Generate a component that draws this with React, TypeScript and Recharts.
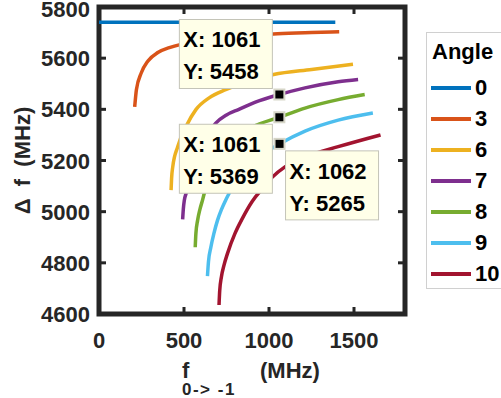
import React from "react";
import { LineChart, Line, XAxis, YAxis, ReferenceDot, ReferenceArea } from "recharts";

const xTicks = [0, 500, 1000, 1500];
const yTicks = [4600, 4800, 5000, 5200, 5400, 5600, 5800];
const xMax = 1800;
const yMin = 4600;
const yMax = 5800;

const angleNames = ["0", "3", "6", "7", "8", "9", "10"];
const angleColors = ["#0072BD", "#D95319", "#EDB120", "#7E2F8E", "#77AC30", "#4DBEEE", "#A2142F"];

const angle0 = [
  { f: 0, df: 5740 },
  { f: 1390, df: 5740 },
];
const angle3 = [
  { f: 210, df: 5410 }, { f: 220, df: 5477 }, { f: 249, df: 5543 }, { f: 288, df: 5589 },
  { f: 346, df: 5622 }, { f: 414, df: 5641 }, { f: 483, df: 5654 }, { f: 600, df: 5668 },
  { f: 750, df: 5680 }, { f: 900, df: 5688 }, { f: 1050, df: 5695 }, { f: 1250, df: 5700 },
  { f: 1413, df: 5703 },
];
const angle6 = [
  { f: 424, df: 5084 }, { f: 427, df: 5130 }, { f: 434, df: 5176 }, { f: 463, df: 5254 },
  { f: 512, df: 5333 }, { f: 570, df: 5399 }, { f: 648, df: 5445 }, { f: 745, df: 5477 },
  { f: 823, df: 5497 }, { f: 1027, df: 5536 }, { f: 1251, df: 5556 }, { f: 1494, df: 5576 },
];
const angle7 = [
  { f: 492, df: 4970 }, { f: 496, df: 5010 }, { f: 502, df: 5045 }, { f: 512, df: 5071 },
  { f: 540, df: 5150 }, { f: 580, df: 5222 }, { f: 630, df: 5290 }, { f: 687, df: 5346 },
  { f: 750, df: 5378 }, { f: 823, df: 5400 }, { f: 920, df: 5428 }, { f: 1061, df: 5458 },
  { f: 1212, df: 5484 }, { f: 1407, df: 5508 }, { f: 1524, df: 5517 },
];
const angle8 = [
  { f: 566, df: 4861 }, { f: 570, df: 4915 }, { f: 580, df: 4966 }, { f: 594, df: 5010 },
  { f: 609, df: 5045 }, { f: 619, df: 5071 }, { f: 660, df: 5160 }, { f: 720, df: 5232 },
  { f: 800, df: 5288 }, { f: 900, df: 5330 }, { f: 1061, df: 5369 }, { f: 1212, df: 5405 },
  { f: 1407, df: 5438 }, { f: 1563, df: 5458 },
];
const angle9 = [
  { f: 638, df: 4748 }, { f: 644, df: 4805 }, { f: 658, df: 4861 }, { f: 676, df: 4915 },
  { f: 697, df: 4966 }, { f: 720, df: 5008 }, { f: 745, df: 5045 }, { f: 765, df: 5071 },
  { f: 850, df: 5155 }, { f: 950, df: 5218 }, { f: 1062, df: 5265 }, { f: 1212, df: 5315 },
  { f: 1407, df: 5358 }, { f: 1611, df: 5386 },
];
const angle10 = [
  { f: 706, df: 4635 }, { f: 710, df: 4690 }, { f: 720, df: 4745 }, { f: 735, df: 4790 },
  { f: 755, df: 4835 }, { f: 800, df: 4915 }, { f: 842, df: 4972 }, { f: 901, df: 5040 },
  { f: 959, df: 5088 }, { f: 1020, df: 5135 }, { f: 1096, df: 5176 }, { f: 1212, df: 5213 },
  { f: 1407, df: 5254 }, { f: 1656, df: 5300 },
];

const angleData = [angle0, angle3, angle6, angle7, angle8, angle9, angle10];

// data tips shown on the figure
const tipX = [1061, 1061, 1062];
const tipY = [5458, 5369, 5265];
// box offset from the marked point
const tipOffset = [
  { dx: -100, dy: -75 },
  { dx: -100, dy: 7 },
  { dx: 6, dy: 7 },
];

const series = angleNames.map((name, i) => ({ name, color: angleColors[i], data: angleData[i] }));

const FONT = '"Liberation Sans", Arial, Helvetica, sans-serif';
const AXIS = "#262626";
const W = 501;
const H = 398;

function LeftTick(props: any) {
  const { x, y, payload } = props;
  return (
    <text x={x - 9} y={y + 8} textAnchor="end" fill={AXIS} fontFamily={FONT} fontWeight="bold" fontSize={22}>
      {payload.value}
    </text>
  );
}

function BottomTick(props: any) {
  const { x, y, payload } = props;
  return (
    <text x={x} y={y + 34} textAnchor="middle" fill={AXIS} fontFamily={FONT} fontWeight="bold" fontSize={22}>
      {payload.value}
    </text>
  );
}

// inward tick marks, MATLAB style
function tickMark(side: "b" | "t" | "l" | "r") {
  return (p: any) => {
    const { cx, cy } = p;
    if (side === "b") return <rect x={cx - 1.5} y={cy - 7} width={3} height={7} fill={AXIS} />;
    if (side === "t") return <rect x={cx - 1.5} y={cy} width={3} height={7} fill={AXIS} />;
    if (side === "l") return <rect x={cx} y={cy - 1.5} width={7} height={3} fill={AXIS} />;
    return <rect x={cx - 7} y={cy - 1.5} width={7} height={3} fill={AXIS} />;
  };
}

function Frame(p: any) {
  const { x, y, width, height } = p;
  return <rect x={x} y={y} width={width} height={height} fill="none" stroke={AXIS} strokeWidth={5} />;
}

function XTitle(props: any) {
  const { viewBox } = props;
  const cx = viewBox.x + viewBox.width / 2;
  return (
    <text x={cx - 70} y={378} fill={AXIS} fontFamily={FONT} fontWeight="bold" fontSize={22}>
      f
      <tspan x={cx - 70} dy={17} fontSize={17} letterSpacing={1.5}>0-&gt; -1</tspan>
      <tspan x={cx + 8} dy={-17}>(MHz)</tspan>
    </text>
  );
}

function YTitle(props: any) {
  const { viewBox } = props;
  const cy = viewBox.y + viewBox.height / 2;
  const cx = 22;
  return (
    <text
      x={cx}
      y={cy}
      dy="0.35em"
      transform={`rotate(-90 ${cx} ${cy})`}
      textAnchor="middle"
      fill={AXIS}
      fontFamily={FONT}
      fontWeight="bold"
      fontSize={22}
      style={{ whiteSpace: "pre" }}
    >
      {"Δ  f  (MHz)"}
    </text>
  );
}

function DataTip(props: any) {
  const { cx, cy, i } = props;
  const bx = cx + tipOffset[i].dx;
  const by = cy + tipOffset[i].dy;
  return (
    <g>
      <rect x={bx} y={by} width={93} height={69} fill="#FFFFE8" stroke="#C4C4B8" strokeWidth={1} />
      <text x={bx + 4} y={by + 28} fill="#000" fontFamily={FONT} fontWeight="bold" fontSize={22}>
        {`X: ${tipX[i]}`}
      </text>
      <text x={bx + 4} y={by + 60} fill="#000" fontFamily={FONT} fontWeight="bold" fontSize={22}>
        {`Y: ${tipY[i]}`}
      </text>
      <rect x={cx - 6} y={cy - 6} width={12} height={12} fill="#D6D6C8" />
      <rect x={cx - 4} y={cy - 4} width={8} height={8} fill="#000" />
    </g>
  );
}

const legendText: React.CSSProperties = {
  fontFamily: FONT,
  fontWeight: "bold",
  fontSize: 22,
  color: "#000",
  lineHeight: "31px",
  whiteSpace: "nowrap",
};

function AngleLegend() {
  return (
    <div
      style={{
        position: "absolute",
        left: 426,
        top: 32,
        width: 90,
        height: 257,
        border: "1px solid #D0D0D0",
        background: "#fff",
        boxSizing: "border-box",
        pointerEvents: "none",
      }}
    >
      <div style={{ ...legendText, position: "absolute", left: 5, top: 3 }}>Angle</div>
      {series.map((s, i) => (
        <div key={s.name} style={{ position: "absolute", left: 4, top: 39 + i * 31, height: 31, display: "flex", alignItems: "center" }}>
          <span style={{ display: "inline-block", width: 40, height: 4, background: s.color }} />
          <span style={{ ...legendText, marginLeft: 4 }}>{s.name}</span>
        </div>
      ))}
    </div>
  );
}

export default function App() {
  return (
    <div style={{ position: "absolute", left: 0, top: 0, width: W, height: H, overflow: "hidden", background: "#fff" }}>
      <LineChart width={W} height={H} margin={{ top: 7, right: 96, left: 0, bottom: 0 }}>
        <XAxis
          dataKey="f"
          type="number"
          domain={[0, xMax]}
          ticks={xTicks}
          height={84}
          tickSize={0}
          tickMargin={0}
          tickLine={false}
          tick={<BottomTick />}
          axisLine={false}
          label={<XTitle />}
        />
        <YAxis
          type="number"
          domain={[yMin, yMax]}
          ticks={yTicks}
          width={99}
          tickSize={0}
          tickMargin={0}
          tickLine={false}
          tick={<LeftTick />}
          axisLine={false}
          label={<YTitle />}
        />
        <ReferenceArea x1={0} x2={xMax} y1={yMin} y2={yMax} ifOverflow="visible" shape={Frame} />
        {xTicks.map((t) => (
          <ReferenceDot key={`b${t}`} x={t} y={yMin} ifOverflow="visible" shape={tickMark("b")} />
        ))}
        {xTicks.map((t) => (
          <ReferenceDot key={`t${t}`} x={t} y={yMax} ifOverflow="visible" shape={tickMark("t")} />
        ))}
        {yTicks.map((t) => (
          <ReferenceDot key={`l${t}`} x={0} y={t} ifOverflow="visible" shape={tickMark("l")} />
        ))}
        {yTicks.map((t) => (
          <ReferenceDot key={`r${t}`} x={xMax} y={t} ifOverflow="visible" shape={tickMark("r")} />
        ))}
        {series.map((s) => (
          <Line
            key={s.name}
            name={s.name}
            data={s.data}
            dataKey="df"
            type="monotone"
            stroke={s.color}
            strokeWidth={3.5}
            dot={false}
            activeDot={false}
            isAnimationActive={false}
          />
        ))}
        {tipX.map((x, i) => (
          <ReferenceDot
            key={i}
            x={x}
            y={tipY[i]}
            ifOverflow="visible"
            shape={(p: any) => <DataTip {...p} i={i} />}
          />
        ))}
      </LineChart>
      <AngleLegend />
    </div>
  );
}
